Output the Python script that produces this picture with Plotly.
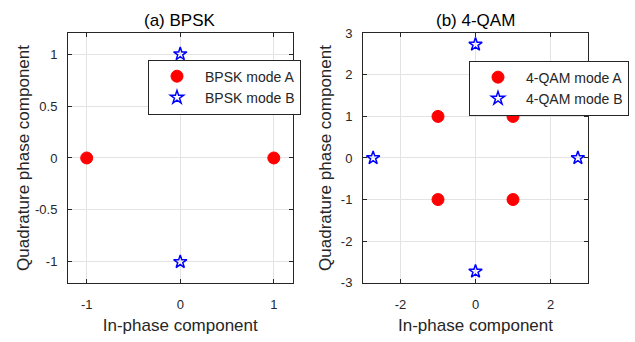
import plotly.graph_objects as go

# BPSK data
bpsk_a_x = [-1, 1]
bpsk_a_y = [0, 0]
bpsk_b_x = [0, 0]
bpsk_b_y = [1, -1]

# 4-QAM data
qam_a_x = [-1, 1, -1, 1]
qam_a_y = [1, 1, -1, -1]
qam_b_x = [0, 2.73, 0, -2.73]
qam_b_y = [2.73, 0, -2.73, 0]

W, H = 635, 342
FONT = "Liberation Sans, Arial, Helvetica, sans-serif"
TXT = "#262626"

fig = go.Figure()

red_marker = dict(symbol="circle", size=12, color="#ff0000", line=dict(color="#ff0000", width=1))
blue_marker = dict(symbol="star-open", size=10, color="#0000ff", line=dict(color="#0000ff", width=1.5))

fig.add_trace(go.Scatter(x=bpsk_a_x, y=bpsk_a_y, mode="markers", marker=red_marker,
                         name="BPSK mode A", xaxis="x", yaxis="y", legend="legend"))
fig.add_trace(go.Scatter(x=bpsk_b_x, y=bpsk_b_y, mode="markers", marker=blue_marker,
                         name="BPSK mode B", xaxis="x", yaxis="y", legend="legend"))
fig.add_trace(go.Scatter(x=qam_a_x, y=qam_a_y, mode="markers", marker=red_marker,
                         name="4-QAM mode A", xaxis="x2", yaxis="y2", legend="legend2"))
fig.add_trace(go.Scatter(x=qam_b_x, y=qam_b_y, mode="markers", marker=blue_marker,
                         name="4-QAM mode B", xaxis="x2", yaxis="y2", legend="legend2"))

def px(x):
    return x / W

def py(y):
    return 1 - y / H

axis_common = dict(
    showline=True, linecolor=TXT, linewidth=1, mirror="ticks",
    ticks="inside", ticklen=4, tickcolor=TXT,
    showgrid=True, gridcolor="#e3e3e3", gridwidth=1,
    zeroline=False,
    tickfont=dict(family=FONT, size=13, color=TXT),
    title_font=dict(family=FONT, size=17, color=TXT),
)
xaxis_extra = dict(ticklabelstandoff=10)
yaxis_extra = dict(ticklabelstandoff=7)

fig.update_layout(
    width=W, height=H,
    margin=dict(l=0, r=0, t=0, b=0),
    paper_bgcolor="white", plot_bgcolor="white",
    font=dict(family=FONT, color=TXT),
    xaxis=dict(domain=[px(68), px(292.5)], range=[-1.2, 1.2], tickvals=[-1, 0, 1],
               ticktext=["-1", "0", "1"], anchor="y",
               title=dict(text="In-phase component", standoff=7), **axis_common, **xaxis_extra),
    yaxis=dict(domain=[py(288.3), py(27.5)], range=[-1.2, 1.2], tickvals=[-1, -0.5, 0, 0.5, 1],
               ticktext=["-1", "-0.5", "0", "0.5", "1"], anchor="x",
               title=dict(text="Quadrature phase component", standoff=1), **axis_common, **yaxis_extra),
    xaxis2=dict(domain=[px(363), px(588)], range=[-3, 3], tickvals=[-2, 0, 2],
                ticktext=["-2", "0", "2"], anchor="y2",
                title=dict(text="In-phase component", standoff=7), **axis_common, **xaxis_extra),
    yaxis2=dict(domain=[py(288.3), py(27.5)], range=[-3, 3], tickvals=[-3, -2, -1, 0, 1, 2, 3],
                ticktext=["-3", "-2", "-1", "0", "1", "2", "3"], anchor="x2",
                title=dict(text="Quadrature phase component", standoff=4), **axis_common, **yaxis_extra),
    legend=dict(x=px(148), y=py(55), xanchor="left", yanchor="top",
                bgcolor="white", bordercolor=TXT, borderwidth=1,
                font=dict(family=FONT, size=14, color=TXT), itemwidth=46),
    legend2=dict(x=px(469), y=py(56), xanchor="left", yanchor="top",
                 bgcolor="white", bordercolor=TXT, borderwidth=1,
                 font=dict(family=FONT, size=14, color=TXT), itemwidth=46),
    annotations=[
        dict(text="(a) BPSK", x=(px(68) + px(292.5)) / 2, y=py(14), xref="paper", yref="paper",
             xanchor="center", yanchor="middle", showarrow=False,
             font=dict(family=FONT, size=17, color="black")),
        dict(text="(b) 4-QAM", x=(px(363) + px(588)) / 2, y=py(14), xref="paper", yref="paper",
             xanchor="center", yanchor="middle", showarrow=False,
             font=dict(family=FONT, size=17, color="black")),
    ],
)

fig.write_html("out.html")
